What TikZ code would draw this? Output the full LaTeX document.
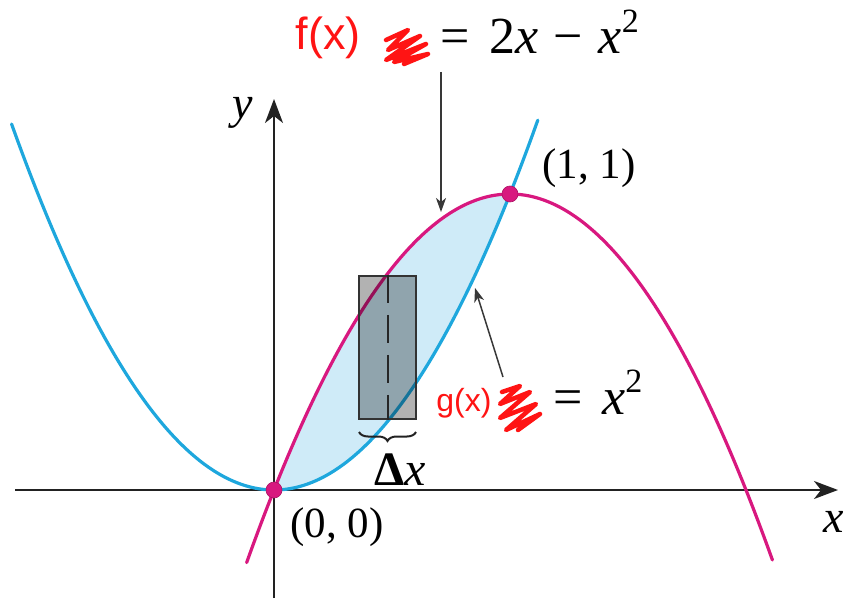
\documentclass[tikz,border=0pt]{standalone}
\usepackage{fontspec}
\setmainfont{Liberation Serif}
\newfontfamily\handfont{Liberation Sans}
\usetikzlibrary{arrows.meta,decorations.pathreplacing}
\definecolor{cblue}{HTML}{1EA7DD}
\definecolor{cmag}{HTML}{D8187F}
\definecolor{cfill}{HTML}{CFEBF8}
\definecolor{axisc}{HTML}{222222}
\definecolor{redink}{HTML}{FF1414}
\newcommand{\sqsup}[1]{\raisebox{0.42em}{\fontsize{34}{34}\selectfont #1}}
\begin{document}
\begin{tikzpicture}[x=1pt,y=-1pt,
  axis/.style={draw=axisc,line width=2pt,-{Stealth[length=24pt,width=18pt,inset=7pt]}},
  ptr/.style={draw=axisc!90,line width=1.5pt,-{Stealth[length=14pt,width=10pt,inset=4pt]}},
  curveb/.style={draw=cblue,line width=3.2pt,line cap=round},
  curvem/.style={draw=cmag,line width=3.2pt,line cap=round},
  lbl/.style={inner sep=0pt,font=\fontsize{43}{43}\selectfont},
  eqlbl/.style={inner sep=0pt,font=\fontsize{52}{52}\selectfont},
  hand/.style={inner sep=0pt,text=redink,font=\handfont\fontsize{45}{45}\selectfont},
  scrib/.style={draw=redink,line width=4.5pt,line join=round,line cap=round},
  dot/.style={circle,fill=cmag,draw=cmag!80!black,line width=0.6pt,minimum size=16pt,inner sep=0pt},
  stripbox/.style={draw=black!80,line width=2.2pt,fill=black,fill opacity=0.3}
]
\useasboundingbox (0,0) rectangle (849,599);
% shaded region between curves
\fill[cfill] plot[domain=0:1,samples=60,smooth] ({274+236*\x},{490-296*\x*\x})
  -- plot[domain=1:0,samples=60,smooth] ({274+236*\x},{490-296*(2*\x-\x*\x)}) -- cycle;
% axes
\coordinate (xl) at (15,490);
\coordinate (xr) at (838,490);
\coordinate (yb) at (274,598);
\coordinate (yt) at (274,99);
\draw[axis] (xl) -- (xr);
\draw[axis] (yb) -- (yt);
\node[inner sep=0pt,font=\fontsize{46}{46}\selectfont\itshape] (xlab) at (834,522) {x};
\node[inner sep=0pt,font=\fontsize{46}{46}\selectfont\itshape] (ylab) at (243,113) {y};
% curves
\draw[curveb] plot[domain=-1.112:1.118,samples=120,smooth] ({274+236*\x},{490-296*\x*\x});
\draw[curvem] plot[domain=-0.116:2.112,samples=120,smooth] ({274+236*\x},{490-296*(2*\x-\x*\x)});
% strip
\node[stripbox,minimum width=57pt,minimum height=143pt,inner sep=0pt] (strip) at (387.5,347.5) {};
\draw[black!85,line width=2pt,dash pattern=on 28pt off 12pt] (strip.north) -- (strip.south);
\draw[axisc,line width=2pt,decorate,decoration={brace,mirror,amplitude=9pt}] (359,432) -- (416,432);
\node[inner sep=0pt,font=\fontsize{48}{48}\selectfont,anchor=base west] (dx) at (374,485) {\textbf{Δ}\textit{x}};
% points
\node[dot] (O) at (274,490) {};
\node[dot] (P) at (510,194) {};
\node[lbl] (Plab) at (589,168) {(1, 1)};
\node[lbl] (Olab) at (337,527) {(0, 0)};
% f label
\node[hand] (flab) at (328,38) {f(x)};
\draw[scrib] (386,40) -- (408,30) -- (388,50) -- (420,36) -- (386,60) -- (426,44) -- (394,62) -- (428,54) -- (404,64);
\node[eqlbl,anchor=base west] (feq) at (440,54) {=\hspace{0.38em}2\textit{x}\hspace{0.3em}−\hspace{0.3em}\textit{x}\sqsup{2}};
\coordinate (fs) at (441,72);
\coordinate (fe) at (441,212);
\draw[ptr] (fs) -- (fe);
% g label
\node[hand,font=\handfont\fontsize{32}{32}\selectfont] (glab) at (464,403) {g(x)};
\draw[scrib] (502,392) -- (520,386) -- (500,404) -- (530,392) -- (500,418) -- (536,404) -- (506,430) -- (540,414) -- (518,430);
\node[eqlbl,anchor=base west] (geq) at (553,414) {=\hspace{0.38em}\textit{x}\sqsup{2}};
\coordinate (gs) at (503,377);
\coordinate (ge) at (475,288);
\draw[ptr] (gs) -- (ge);
\end{tikzpicture}
\end{document}
